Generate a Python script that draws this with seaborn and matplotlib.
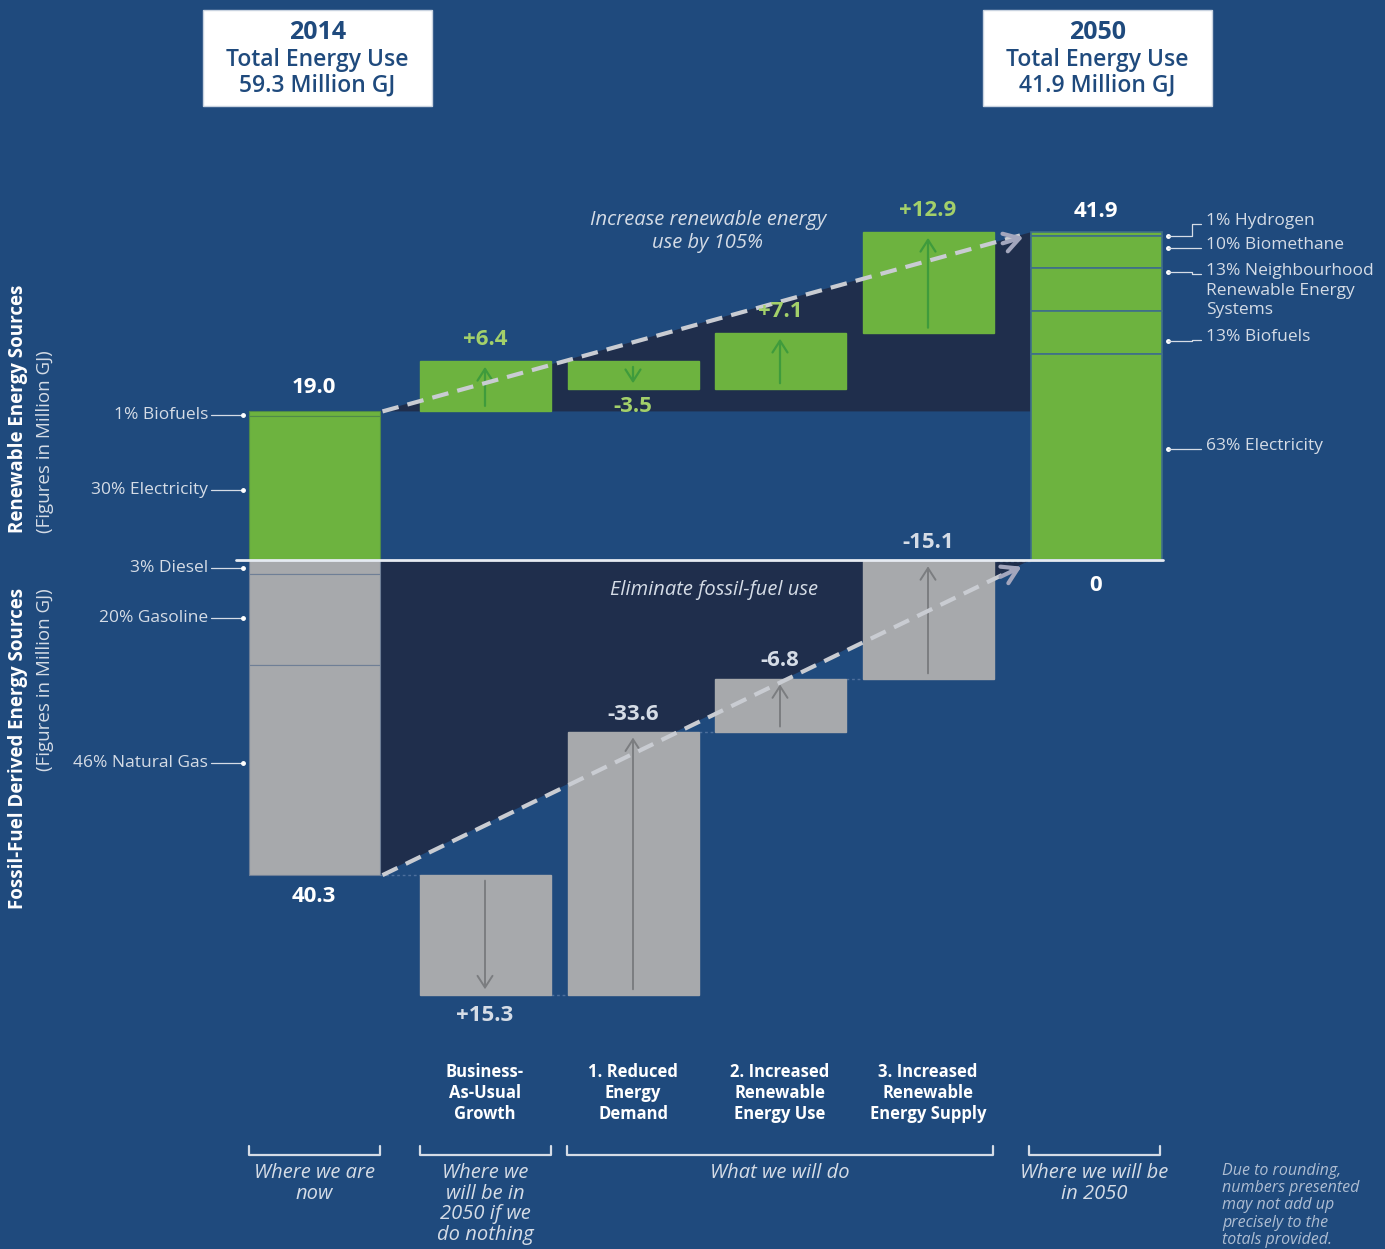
import matplotlib
matplotlib.use('Agg')
import matplotlib.pyplot as plt
import seaborn as sns
import numpy as np
from matplotlib.patches import Polygon, Rectangle

sns.set_theme(style="white")
plt.rcParams['font.family'] = ['Open Sans', 'DejaVu Sans']

# ---- data (million GJ) ----
steps = ['Where we are now', 'Business-\nAs-Usual\nGrowth', '1. Reduced\nEnergy\nDemand',
         '2. Increased\nRenewable\nEnergy Use', '3. Increased\nRenewable\nEnergy Supply', 'Where we will be in 2050']
renew_2014 = 19.0
renew_changes = [6.4, -3.5, 7.1, 12.9]
renew_2050 = 41.9
fossil_2014 = 40.3
fossil_changes = [15.3, -33.6, -6.8, -15.1]
fossil_2050 = 0

renew_2014_mix = ['1% Biofuels', '30% Electricity']
renew_2014_pct = [1, 30]
fossil_2014_mix = ['3% Diesel', '20% Gasoline', '46% Natural Gas']
fossil_2014_pct = [3, 20, 46]
renew_2050_mix = ['1% Hydrogen', '10% Biomethane', '13% Neighbourhood\nRenewable Energy\nSystems',
                  '13% Biofuels', '63% Electricity']
renew_2050_pct = [1, 10, 13, 13, 63]

# ---- style ----
BG = '#1f4a7d'
GREEN = '#6db33f'
GREEN_TXT = '#a3d06a'
GREEN_ARROW = '#3f9b3c'
GRAY = '#a7a9ac'
GRAY_ARROW = '#7b7d80'
DARK = '#1f2e4c'
WHITE = '#ffffff'
LIGHT = '#d5dce6'

W, H = 1385, 1249
ZERO_PX, SCALE = 560, 7.82          # pixel row of the zero line, pixels per million GJ
centers = [314, 485, 633, 780, 928, 1096]
bw = 131

fig = plt.figure(figsize=(W / 100, H / 100), dpi=100)
fig.patch.set_facecolor(BG)
ax = fig.add_axes([0, 0, 1, 1])
ax.set_facecolor(BG)
ax.set_xlim(0, W)
ax.set_ylim(-(H - ZERO_PX) / SCALE, ZERO_PX / SCALE)
ax.axis('off')


def vy(py):
    return (ZERO_PX - py) / SCALE


# cumulative levels
renew_levels = [renew_2014]
for c in renew_changes:
    renew_levels.append(renew_levels[-1] + c)
fossil_levels = [fossil_2014]
for c in fossil_changes:
    fossil_levels.append(fossil_levels[-1] + c)

# dark wedges behind the bars
left_x = centers[0] + bw / 2
right_x = centers[5] - bw / 2
ax.add_patch(Polygon([(left_x, renew_2014), (right_x, renew_2050), (right_x, renew_2014)],
                     closed=True, color=DARK, lw=0, zorder=1))
ax.add_patch(Polygon([(left_x, 0), (left_x, -fossil_2014), (right_x, 0)],
                     closed=True, color=DARK, lw=0, zorder=1))

# 2014 stacked bar
top = renew_2014
shares = np.array(renew_2014_pct) / sum(renew_2014_pct) * renew_2014
for s in shares:
    ax.bar(centers[0], -s, bottom=top, width=bw, color=GREEN, edgecolor='#4f8a4a', lw=0.8, zorder=3)
    top -= s
top = 0
shares = np.array(fossil_2014_pct) / sum(fossil_2014_pct) * fossil_2014
for s in shares:
    ax.bar(centers[0], -s, bottom=top, width=bw, color=GRAY, edgecolor='#6f7f96', lw=0.8, zorder=3)
    top -= s

# 2050 stacked bar
top = renew_2050
shares = np.array(renew_2050_pct) / sum(renew_2050_pct) * renew_2050
for s in shares:
    ax.bar(centers[5], -s, bottom=top, width=bw, color=GREEN, edgecolor='#3f6f8a', lw=1.2, zorder=3)
    top -= s

# floating change bars with arrows
for i, c in enumerate(renew_changes):
    x = centers[i + 1]
    start, end = renew_levels[i], renew_levels[i + 1]
    ax.bar(x, end - start, bottom=start, width=bw, color=GREEN, edgecolor=GREEN, zorder=3)
    d = np.sign(end - start)
    ax.annotate('', xy=(x, end - d * 0.35), xytext=(x, start + d * 0.35),
                arrowprops=dict(arrowstyle='->,head_length=0.7,head_width=0.45', color=GREEN_ARROW, lw=1.6),
                zorder=4)
for i, c in enumerate(fossil_changes):
    x = centers[i + 1]
    start, end = -fossil_levels[i], -fossil_levels[i + 1]
    ax.bar(x, end - start, bottom=start, width=bw, color=GRAY, edgecolor=GRAY, zorder=3)
    d = np.sign(end - start)
    ax.annotate('', xy=(x, end - d * 0.35), xytext=(x, start + d * 0.35),
                arrowprops=dict(arrowstyle='->,head_length=0.7,head_width=0.45', color=GRAY_ARROW, lw=1.4),
                zorder=4)

# faint connectors between bars
for i in range(5):
    x0 = centers[i] + bw / 2
    x1 = centers[i + 1] - bw / 2
    fy = -fossil_levels[min(i, 4)]
    ax.plot([x0, x1], [fy, fy], ls=(0, (2, 2)), color='#4d6f9c', lw=1, zorder=2)

# dashed trend lines with chevrons
ax.plot([left_x + 3, 1020], [renew_2014, renew_2050 - 0.4], ls=(0, (4, 2.2)), color='#c9ccd2', lw=3, zorder=5)
ax.annotate('', xy=(1026, renew_2050 - 0.5), xytext=(1000, renew_2050 - 1.5),
            arrowprops=dict(arrowstyle='->,head_length=0.9,head_width=0.55', color='#a3a6bd', lw=3), zorder=5)
ax.plot([left_x + 3, 1017], [-fossil_2014, -1.0], ls=(0, (4, 2.2)), color='#c9ccd2', lw=3, zorder=5)
ax.annotate('', xy=(1024, -0.7), xytext=(998, -2.3),
            arrowprops=dict(arrowstyle='->,head_length=0.9,head_width=0.55', color='#a3a6bd', lw=3), zorder=5)

# zero line
ax.plot([236, 1163], [0, 0], color='#e6ebf2', lw=2, zorder=6)

# value labels
bold = dict(fontsize=16, fontweight='bold', ha='center', va='center', zorder=7)
ax.text(centers[0], renew_2014 + 3.1, f'{renew_2014:.1f}', color=WHITE, **bold)
ax.text(centers[5], renew_2050 + 2.7, f'{renew_2050:.1f}', color=WHITE, **bold)
for i, c in enumerate(renew_changes):
    lvl = max(renew_levels[i], renew_levels[i + 1]) + 2.8 if c > 0 else min(renew_levels[i], renew_levels[i + 1]) - 2.3
    ax.text(centers[i + 1], lvl, f'{c:+.1f}', color=GREEN_TXT, **bold)
ax.text(centers[0], -fossil_2014 - 2.7, f'{fossil_2014:.1f}', color=WHITE, **bold)
ax.text(centers[5], -3.3, f'{fossil_2050}', color=WHITE, **bold)
for i, c in enumerate(fossil_changes):
    if c > 0:
        lvl = -fossil_levels[i + 1] - 2.7
    else:
        lvl = -fossil_levels[i + 1] + 2.3
    ax.text(centers[i + 1], lvl, f'{c:+.1f}', color=LIGHT, **bold)

# annotations inside wedges
ax.text(708, vy(231), 'Increase renewable energy\nuse by 105%', color=LIGHT, fontsize=14.5,
        style='italic', ha='center', va='center', linespacing=1.2, zorder=7)
ax.text(714, vy(590), 'Eliminate fossil-fuel use', color=LIGHT, fontsize=14.5,
        style='italic', ha='center', va='center', zorder=7)

# leader labels, left
left_pos = [415, 490]
for lab, py in zip(renew_2014_mix, left_pos):
    ax.plot([211, 243], [vy(py), vy(py)], color=LIGHT, lw=0.9)
    ax.plot(243, vy(py), 'o', color=WHITE, ms=2.5)
    ax.text(208, vy(py), lab, color=LIGHT, fontsize=12.5, ha='right', va='center')
left_pos = [568, 618, 763]
for lab, py in zip(fossil_2014_mix, left_pos):
    ax.plot([211, 243], [vy(py), vy(py)], color=LIGHT, lw=0.9)
    ax.plot(243, vy(py), 'o', color=WHITE, ms=2.5)
    ax.text(208, vy(py), lab, color=LIGHT, fontsize=12.5, ha='right', va='center')

# leader labels, right
right_dot = [236, 248, 272, 341, 449]
right_txt = [224, 248, 274, 340, 449]
for lab, dy, ty in zip(renew_2050_mix, right_dot, right_txt):
    ax.plot(1168, vy(dy), 'o', color=WHITE, ms=2.5)
    if dy != ty:
        ax.plot([1168, 1192, 1192, 1201], [vy(dy), vy(dy), vy(ty), vy(ty)], color=LIGHT, lw=0.9)
    else:
        ax.plot([1168, 1201], [vy(dy), vy(dy)], color=LIGHT, lw=0.9)
    ax.text(1206, vy(ty - 11), lab, color=LIGHT, fontsize=12.5, ha='left', va='top', linespacing=1.3)

# header boxes
for x0, year, total in [(203, '2014', '59.3'), (983, '2050', '41.9')]:
    ax.add_patch(Rectangle((x0, vy(106)), 229, vy(10) - vy(106), facecolor=WHITE,
                           edgecolor='#c9d3e0', lw=1, zorder=8))
    cx = x0 + 229 / 2
    ax.text(cx, vy(32), year, color='#1f4a7d', fontsize=18, fontweight='bold', ha='center', va='center', zorder=9)
    ax.text(cx, vy(60), 'Total Energy Use', color='#1f4a7d', fontsize=16.5, fontweight='semibold',
            ha='center', va='center', zorder=9)
    ax.text(cx, vy(86), f'{total} Million GJ', color='#1f4a7d', fontsize=16.5, fontweight='semibold',
            ha='center', va='center', zorder=9)

# vertical axis titles
fig.text(18 / W, 1 - 533 / H, 'Renewable Energy Sources', rotation=90, color=WHITE, fontsize=13.5,
         fontweight='bold', ha='center', va='bottom')
fig.text(45 / W, 1 - 533 / H, '(Figures in Million GJ)', rotation=90, color=LIGHT, fontsize=13.5,
         ha='center', va='bottom')
fig.text(18 / W, 1 - 588 / H, 'Fossil-Fuel Derived Energy Sources', rotation=90, color=WHITE, fontsize=13.5,
         fontweight='bold', ha='center', va='top')
fig.text(45 / W, 1 - 588 / H, '(Figures in Million GJ)', rotation=90, color=LIGHT, fontsize=13.5,
         ha='center', va='top')

# step names
for x, name in zip(centers[1:5], steps[1:5]):
    ax.text(x, vy(1063), name, color=WHITE, fontsize=12, fontweight='bold', ha='center', va='top',
            linespacing=1.2)

# brackets and phase captions
brackets = [(249, 380), (420, 551), (567, 993), (1029, 1160)]
captions = ['Where we are\nnow', 'Where we\nwill be in\n2050 if we\ndo nothing', 'What we will do',
            'Where we will be\nin 2050']
for (a, b), cap in zip(brackets, captions):
    ax.plot([a, a, b, b], [vy(1146), vy(1155), vy(1155), vy(1146)], color=LIGHT, lw=1.6)
    ax.text((a + b) / 2, vy(1163), cap, color=LIGHT, fontsize=14.5, style='italic', ha='center', va='top',
            linespacing=1.05)
ax.text(1222, vy(1163), 'Due to rounding,\nnumbers presented\nmay not add up\nprecisely to the\ntotals provided.',
        color='#aebdd2', fontsize=11.5, style='italic', ha='left', va='top', linespacing=1.1)

fig.savefig('out.png', dpi=100, facecolor=BG)
